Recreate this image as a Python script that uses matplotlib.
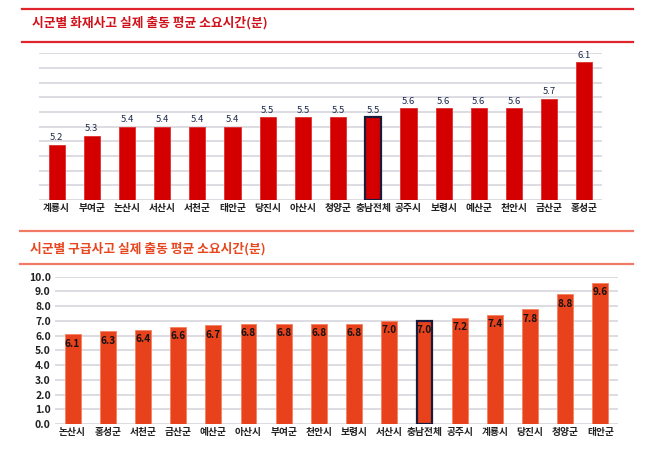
import matplotlib
matplotlib.use("Agg")
import matplotlib.pyplot as plt
from matplotlib.lines import Line2D
import numpy as np

plt.rcParams['font.family'] = ['Noto Sans CJK KR', 'DejaVu Sans']

fire_title = "시군별 화재사고 실제 출동 평균 소요시간(분)"
fire_cats = ["계룡시", "부여군", "논산시", "서산시", "서천군", "태안군", "당진시", "아산시",
             "청양군", "충남전체", "공주시", "보령시", "예산군", "천안시", "금산군", "홍성군"]
fire_vals = [5.2, 5.3, 5.4, 5.4, 5.4, 5.4, 5.5, 5.5, 5.5, 5.5, 5.6, 5.6, 5.6, 5.6, 5.7, 6.1]

ems_title = "시군별 구급사고 실제 출동 평균 소요시간(분)"
ems_cats = ["논산시", "홍성군", "서천군", "금산군", "예산군", "아산시", "부여군", "천안시",
            "보령시", "서산시", "충남전체", "공주시", "계룡시", "당진시", "청양군", "태안군"]
ems_vals = [6.1, 6.3, 6.4, 6.6, 6.7, 6.8, 6.8, 6.8, 6.8, 7.0, 7.0, 7.2, 7.4, 7.8, 8.8, 9.6]

highlight = "충남전체"

W, H = 650, 450
fig = plt.figure(figsize=(6.5, 4.5), dpi=100)
fig.patch.set_facecolor("white")

def fx(px):
    return px / W

def fy(py):
    return 1 - py / H

# ---------- title bands ----------
def title_band(y_top, y_bot, y_text, x0, x1, text, line_color, text_color):
    for yy in (y_top, y_bot):
        fig.add_artist(Line2D([fx(x0), fx(x1)], [fy(yy), fy(yy)], color=line_color,
                              lw=1.6, transform=fig.transFigure))
    fig.text(fx(x0 + 10), fy(y_text), text, color=text_color, fontsize=9.2,
             fontweight='bold', va='center', ha='left')

title_band(9, 42, 23, 22, 633, fire_title, "#E0242C", "#D0121B")
title_band(231, 264, 249, 20, 633, ems_title, "#F07A66", "#E8461E")

grid_color = "#DCDCE2"

# ---------- top chart ----------
ax1 = fig.add_axes([fx(39), fy(200), fx(602) - fx(39), fy(53.3) - fy(200)])
x1 = np.arange(len(fire_cats))
ymin1, ymax1 = 4.6, 6.2
ax1.set_ylim(ymin1, ymax1)
ax1.set_xlim(-0.5, len(fire_cats) - 0.5)
for g in np.linspace(ymin1, ymax1, 11):
    ax1.axhline(g, color=grid_color, lw=1.4, zorder=0)
edge1 = ["#1A1A3A" if c == highlight else "#E03030" for c in fire_cats]
lw1 = [1.6 if c == highlight else 0.6 for c in fire_cats]
ax1.bar(x1, np.array(fire_vals) - ymin1, bottom=ymin1, width=0.46, color="#D40000",
        edgecolor=edge1, linewidth=lw1, zorder=3)
for xi, v in zip(x1, fire_vals):
    ax1.text(xi, v + 0.03, f"{v:.1f}", ha='center', va='bottom', fontsize=6.8,
             color="#1F2A4A")
ax1.set_xticks(x1)
ax1.set_xticklabels(fire_cats, fontsize=7, color="#222222", fontweight='bold')
ax1.set_yticks([])
ax1.tick_params(axis='x', length=0, pad=2.5)
for s in ax1.spines.values():
    s.set_visible(False)
ax1.patch.set_alpha(0)

# ---------- bottom chart ----------
ax2 = fig.add_axes([fx(55), fy(424), fx(618) - fx(55), fy(276.7) - fy(424)])
x2 = np.arange(len(ems_cats))
ax2.set_ylim(0, 10)
ax2.set_xlim(-0.5, len(ems_cats) - 0.5)
for g in np.arange(0, 11, 1):
    ax2.axhline(g, color=grid_color, lw=1.4, zorder=0)
edge2 = ["#1A1A3A" if c == highlight else "#F58060" for c in ems_cats]
lw2 = [1.6 if c == highlight else 0.6 for c in ems_cats]
ax2.bar(x2, ems_vals, width=0.45, color="#E8421C", edgecolor=edge2, linewidth=lw2, zorder=3)
for xi, v in zip(x2, ems_vals):
    ax2.text(xi, v - 0.3, f"{v:.1f}", ha='center', va='top', fontsize=7.2,
             color="#111111", fontweight='bold')
ax2.set_xticks(x2)
ax2.set_xticklabels(ems_cats, fontsize=7, color="#222222", fontweight='bold')
ax2.set_yticks(np.arange(0, 11, 1))
ax2.set_yticklabels([f"{v:.1f}" for v in np.arange(0, 11, 1)], fontsize=7.5,
                    color="#222222", fontweight='bold')
ax2.tick_params(axis='x', length=0, pad=2.5)
ax2.tick_params(axis='y', length=0, pad=3)
for s in ax2.spines.values():
    s.set_visible(False)
ax2.patch.set_alpha(0)

fig.savefig("out.png", dpi=100, facecolor="white")
